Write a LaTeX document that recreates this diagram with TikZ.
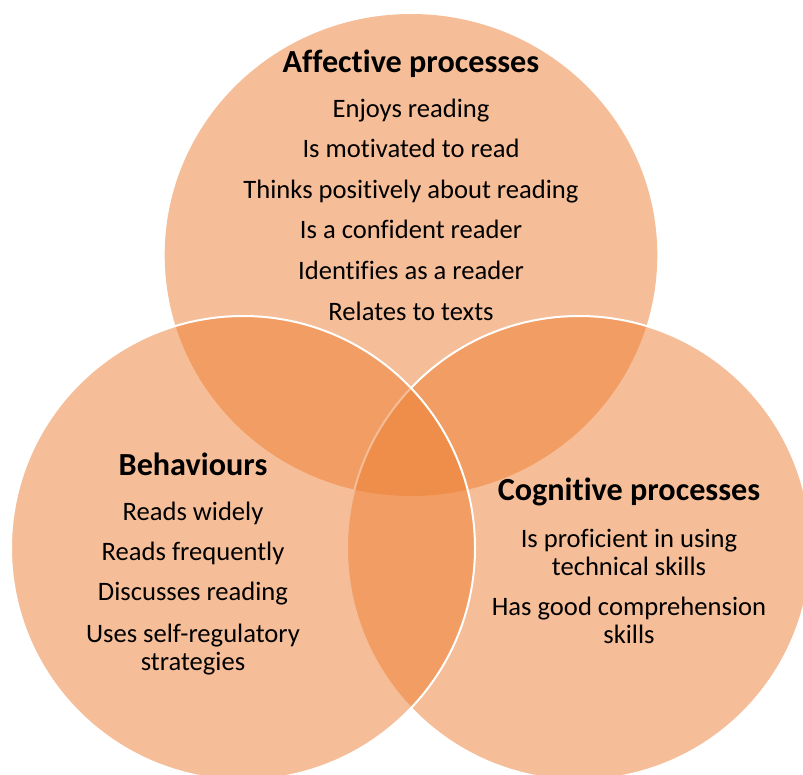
\documentclass[tikz,border=0pt]{standalone}
\usepackage{fontspec}
\setmainfont{Carlito}[Ligatures=NoCommon]
\definecolor{vennorange}{HTML}{ED7D31}
\begin{document}
\begin{tikzpicture}[x=1pt,y=-1pt,
  venn/.style={fill=vennorange,fill opacity=0.5},
  vennline/.style={venn,draw=white,draw opacity=1,line width=2pt},
  head/.style={anchor=base,font=\fontsize{32.2}{38}\selectfont\bfseries,inner sep=0pt},
  item/.style={anchor=base,font=\fontsize{26.6}{28.7}\selectfont,inner sep=0pt,align=center}]
\clip (0,0) rectangle (803,774);
% circles
\fill[venn] (411,255) ellipse [x radius=246.3, y radius=241];
\path[vennline] (579,548) circle [radius=232];
\path[vennline] (243,548) circle [radius=232];
% top: affective
\node[head] (ah) at (411,72) {Affective processes};
\node[item] (a1) at (411,117) {Enjoys reading};
\node[item] (a2) at (411,157.6) {Is motivated to read};
\node[item] (a3) at (411,198.2) {Thinks positively about reading};
\node[item] (a4) at (411,238.8) {Is a confident reader};
\node[item] (a5) at (411,279.4) {Identifies as a reader};
\node[item] (a6) at (411,320) {Relates to texts};
% left: behaviours
\node[head] (bh) at (193,475) {Behaviours};
\node[item] (b1) at (193,520) {Reads widely};
\node[item] (b2) at (193,560) {Reads frequently};
\node[item] (b3) at (193,600) {Discusses reading};
\node[item] (b4) at (193,642) {Uses self-regulatory};
\node[item] (b5) at (193,670.7) {strategies};
% right: cognitive
\node[head] (ch) at (629,500) {Cognitive processes};
\node[item] (c1) at (629,547) {Is proficient in using};
\node[item] (c2) at (629,575) {technical skills};
\node[item] (c3) at (629,615) {Has good comprehension};
\node[item] (c4) at (629,643) {skills};
\end{tikzpicture}
\end{document}
